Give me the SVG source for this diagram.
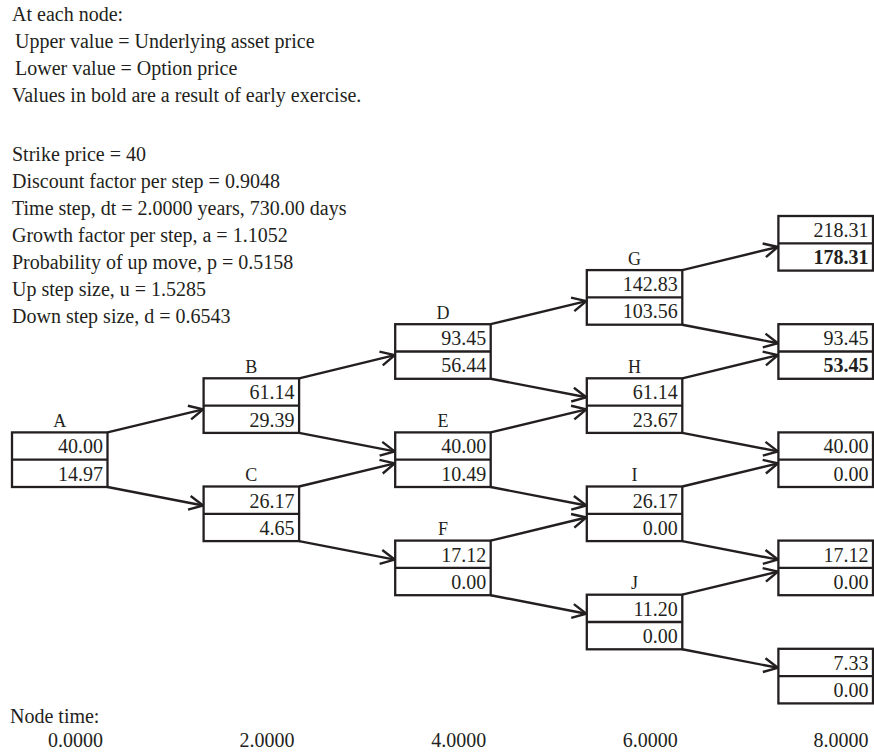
<svg xmlns="http://www.w3.org/2000/svg" width="874" height="753" viewBox="0 0 874 753">
<style>
text{font-family:"Liberation Serif","Times New Roman",serif;fill:#231f20;}
.t{font-size:20px;}
.v{font-size:20px;text-anchor:end;}
.b{font-weight:bold;}
.lbl{font-size:18px;text-anchor:middle;}
.box{fill:#fff;stroke:#231f20;stroke-width:2.3;}
.div{stroke:#231f20;stroke-width:2.3;}
.edge{fill:none;stroke:#231f20;stroke-width:2.4;marker-end:url(#arr);}
</style>
<defs>
<marker id="arr" markerUnits="userSpaceOnUse" markerWidth="20" markerHeight="20" refX="0" refY="0" orient="auto" overflow="visible">
<path d="M-14,-7 L0,0 L-14,7" fill="none" stroke="#231f20" stroke-width="2.4" stroke-linejoin="miter"/>
</marker>
</defs>
<rect width="874" height="753" fill="#fff"/>
<g id="legend">
<text class="t" x="12" y="21">At each node:</text>
<text class="t" x="15" y="48">Upper value = Underlying asset price</text>
<text class="t" x="15" y="75">Lower value = Option price</text>
<text class="t" x="12" y="102">Values in bold are a result of early exercise.</text>
</g>
<g id="params">
<text class="t" x="12" y="161">Strike price = 40</text>
<text class="t" x="12" y="188">Discount factor per step = 0.9048</text>
<text class="t" x="12" y="215">Time step, dt = 2.0000 years, 730.00 days</text>
<text class="t" x="12" y="242">Growth factor per step, a = 1.1052</text>
<text class="t" x="12" y="269">Probability of up move, p = 0.5158</text>
<text class="t" x="12" y="296">Up step size, u = 1.5285</text>
<text class="t" x="12" y="323">Down step size, d = 0.6543</text>
</g>
<g id="connectors">
<path class="edge" d="M107.5,432.4 L203.1,409.3"/>
<path class="edge" d="M107.5,487 L203.1,505.5"/>
<path class="edge" d="M299.1,378.3 L394.7,355.2"/>
<path class="edge" d="M299.1,432.9 L394.7,451.4"/>
<path class="edge" d="M299.1,486.5 L394.7,463.4"/>
<path class="edge" d="M299.1,541.1 L394.7,559.6"/>
<path class="edge" d="M490.7,324.2 L586.3,301.1"/>
<path class="edge" d="M490.7,378.8 L586.3,397.3"/>
<path class="edge" d="M490.7,432.4 L586.3,409.3"/>
<path class="edge" d="M490.7,487 L586.3,505.5"/>
<path class="edge" d="M490.7,540.6 L586.3,517.5"/>
<path class="edge" d="M490.7,595.2 L586.3,613.7"/>
<path class="edge" d="M682.3,270.1 L777.9,247"/>
<path class="edge" d="M682.3,324.7 L777.9,343.2"/>
<path class="edge" d="M682.3,378.3 L777.9,355.2"/>
<path class="edge" d="M682.3,432.9 L777.9,451.4"/>
<path class="edge" d="M682.3,486.5 L777.9,463.4"/>
<path class="edge" d="M682.3,541.1 L777.9,559.6"/>
<path class="edge" d="M682.3,594.7 L777.9,571.6"/>
<path class="edge" d="M682.3,649.3 L777.9,667.8"/>
</g>
<g id="nodeA" transform="translate(12,432.4)">
<text class="lbl" x="47.75" y="-5.5">A</text>
<rect class="box" width="95.5" height="54.6"/><line class="div" x1="0" y1="27.3" x2="95.5" y2="27.3"/>
<text class="v" x="91" y="21">40.00</text><text class="v" x="91" y="48.3">14.97</text>
</g>
<g id="nodeB" transform="translate(203.6,378.3)">
<text class="lbl" x="47.75" y="-5.5">B</text>
<rect class="box" width="95.5" height="54.6"/><line class="div" x1="0" y1="27.3" x2="95.5" y2="27.3"/>
<text class="v" x="91" y="21">61.14</text><text class="v" x="91" y="48.3">29.39</text>
</g>
<g id="nodeC" transform="translate(203.6,486.5)">
<text class="lbl" x="47.75" y="-5.5">C</text>
<rect class="box" width="95.5" height="54.6"/><line class="div" x1="0" y1="27.3" x2="95.5" y2="27.3"/>
<text class="v" x="91" y="21">26.17</text><text class="v" x="91" y="48.3">4.65</text>
</g>
<g id="nodeD" transform="translate(395.2,324.2)">
<text class="lbl" x="47.75" y="-5.5">D</text>
<rect class="box" width="95.5" height="54.6"/><line class="div" x1="0" y1="27.3" x2="95.5" y2="27.3"/>
<text class="v" x="91" y="21">93.45</text><text class="v" x="91" y="48.3">56.44</text>
</g>
<g id="nodeE" transform="translate(395.2,432.4)">
<text class="lbl" x="47.75" y="-5.5">E</text>
<rect class="box" width="95.5" height="54.6"/><line class="div" x1="0" y1="27.3" x2="95.5" y2="27.3"/>
<text class="v" x="91" y="21">40.00</text><text class="v" x="91" y="48.3">10.49</text>
</g>
<g id="nodeF" transform="translate(395.2,540.6)">
<text class="lbl" x="47.75" y="-5.5">F</text>
<rect class="box" width="95.5" height="54.6"/><line class="div" x1="0" y1="27.3" x2="95.5" y2="27.3"/>
<text class="v" x="91" y="21">17.12</text><text class="v" x="91" y="48.3">0.00</text>
</g>
<g id="nodeG" transform="translate(586.8,270.1)">
<text class="lbl" x="47.75" y="-5.5">G</text>
<rect class="box" width="95.5" height="54.6"/><line class="div" x1="0" y1="27.3" x2="95.5" y2="27.3"/>
<text class="v" x="91" y="21">142.83</text><text class="v" x="91" y="48.3">103.56</text>
</g>
<g id="nodeH" transform="translate(586.8,378.3)">
<text class="lbl" x="47.75" y="-5.5">H</text>
<rect class="box" width="95.5" height="54.6"/><line class="div" x1="0" y1="27.3" x2="95.5" y2="27.3"/>
<text class="v" x="91" y="21">61.14</text><text class="v" x="91" y="48.3">23.67</text>
</g>
<g id="nodeI" transform="translate(586.8,486.5)">
<text class="lbl" x="47.75" y="-5.5">I</text>
<rect class="box" width="95.5" height="54.6"/><line class="div" x1="0" y1="27.3" x2="95.5" y2="27.3"/>
<text class="v" x="91" y="21">26.17</text><text class="v" x="91" y="48.3">0.00</text>
</g>
<g id="nodeJ" transform="translate(586.8,594.7)">
<text class="lbl" x="47.75" y="-5.5">J</text>
<rect class="box" width="95.5" height="54.6"/><line class="div" x1="0" y1="27.3" x2="95.5" y2="27.3"/>
<text class="v" x="91" y="21">11.20</text><text class="v" x="91" y="48.3">0.00</text>
</g>
<g id="nodeT1" transform="translate(778.4,216)">
<rect class="box" width="94.6" height="54.6"/><line class="div" x1="0" y1="27.3" x2="94.6" y2="27.3"/>
<text class="v" x="90" y="21">218.31</text><text class="v b" x="90" y="48.3">178.31</text>
</g>
<g id="nodeT2" transform="translate(778.4,324.2)">
<rect class="box" width="94.6" height="54.6"/><line class="div" x1="0" y1="27.3" x2="94.6" y2="27.3"/>
<text class="v" x="90" y="21">93.45</text><text class="v b" x="90" y="48.3">53.45</text>
</g>
<g id="nodeT3" transform="translate(778.4,432.4)">
<rect class="box" width="94.6" height="54.6"/><line class="div" x1="0" y1="27.3" x2="94.6" y2="27.3"/>
<text class="v" x="90" y="21">40.00</text><text class="v" x="90" y="48.3">0.00</text>
</g>
<g id="nodeT4" transform="translate(778.4,540.6)">
<rect class="box" width="94.6" height="54.6"/><line class="div" x1="0" y1="27.3" x2="94.6" y2="27.3"/>
<text class="v" x="90" y="21">17.12</text><text class="v" x="90" y="48.3">0.00</text>
</g>
<g id="nodeT5" transform="translate(778.4,648.8)">
<rect class="box" width="94.6" height="54.6"/><line class="div" x1="0" y1="27.3" x2="94.6" y2="27.3"/>
<text class="v" x="90" y="21">7.33</text><text class="v" x="90" y="48.3">0.00</text>
</g>
<g id="timeline">
<text class="t" x="10" y="723">Node time:</text>
<text class="v" x="103" y="747">0.0000</text>
<text class="v" x="294.6" y="747">2.0000</text>
<text class="v" x="486.2" y="747">4.0000</text>
<text class="v" x="677.8" y="747">6.0000</text>
<text class="v" x="868.4" y="747">8.0000</text>
</g>
</svg>
